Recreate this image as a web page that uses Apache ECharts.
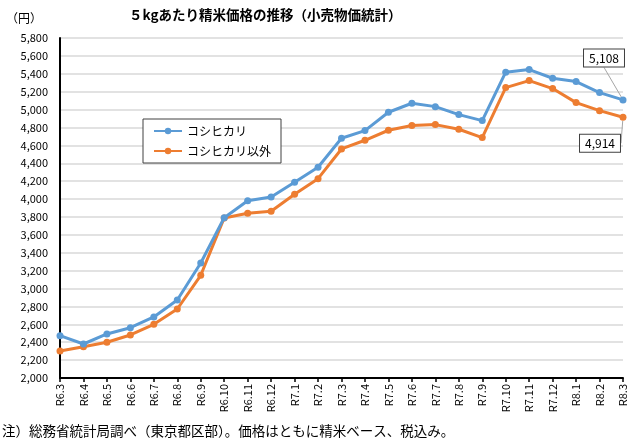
<!DOCTYPE html>
<html>
<head>
<meta charset="utf-8">
<script src="https://cdn.jsdelivr.net/npm/echarts@6/dist/echarts.min.js"></script>
<style>
html,body{margin:0;padding:0;background:#fff;}
#c{width:641px;height:443px;}
</style>
</head>
<body>
<div id="c"></div>
<script>
var categories = ['R6.3','R6.4','R6.5','R6.6','R6.7','R6.8','R6.9','R6.10','R6.11','R6.12','R7.1','R7.2','R7.3','R7.4','R7.5','R7.6','R7.7','R7.8','R7.9','R7.10','R7.11','R7.12','R8.1','R8.2','R8.3'];
var koshihikari = [2473,2380,2492,2562,2682,2872,3286,3792,3982,4024,4188,4355,4680,4765,4970,5071,5033,4944,4877,5418,5447,5350,5313,5190,5108];
var others = [2302,2350,2399,2481,2600,2771,3148,3789,3841,3863,4054,4228,4560,4657,4769,4821,4832,4780,4687,5246,5324,5235,5078,4988,4914];
var seriesNames = ['コシヒカリ','コシヒカリ以外'];
var titleText = '５kgあたり精米価格の推移（小売物価統計）';
var unitText = '（円）';
var noteText = '注）総務省統計局調べ（東京都区部）。価格はともに精米ベース、税込み。';

var FONT = '"Noto Sans CJK JP", "Noto Sans", sans-serif';
function fmt(v){ return Number(v).toLocaleString('en-US'); }

function lastLabelData(arr, labelCfg){
  return arr.map(function(v,i){
    if(i === arr.length-1){
      return {value: v, label: labelCfg};
    }
    return v;
  });
}

var chart = echarts.init(document.getElementById('c'), null, {renderer:'canvas'});
var option = {
  backgroundColor: '#fff',
  animation: false,
  textStyle: {fontFamily: FONT},
  title: [{
    text: titleText,
    left: 124, top: 3,
    textStyle: {fontFamily: FONT, fontSize: 13.5, fontWeight: 'bold', color: '#000'}
  }],
  graphic: [
    {type:'text', left: 6, top: 12, style:{text: unitText, font: '12px ' + FONT, fill:'#000'}},
    {type:'text', left: 2, top: 424, style:{text: noteText, font: '13.5px ' + FONT, fill:'#000'}}
  ],
  legend: {
    left: 143, top: 119, orient: 'vertical',
    padding: [6, 10, 6, 10],
    itemGap: 8,
    itemWidth: 28, itemHeight: 8,
    borderColor: '#404040', borderWidth: 1,
    backgroundColor: '#fff',
    textStyle: {fontFamily: FONT, fontSize: 12, color: '#000'},
    data: seriesNames
  },
  grid: {left: 60, right: 18, top: 38, bottom: 65, containLabel: false},
  xAxis: {
    type: 'category',
    data: categories,
    boundaryGap: false,
    axisLine: {lineStyle: {color: '#000', width: 2}},
    axisTick: {show: true, alignWithLabel: true, length: 4, lineStyle: {color: '#000', width: 1.5}},
    axisLabel: {rotate: 90, interval: 0, fontSize: 11, color: '#000', fontFamily: FONT, margin: 6},
    splitLine: {show: false}
  },
  yAxis: {
    type: 'value',
    min: 2000, max: 5800, interval: 200,
    axisLine: {show: true, lineStyle: {color: '#000', width: 2}},
    axisTick: {show: false},
    axisLabel: {fontSize: 11, color: '#000', fontFamily: FONT, margin: 12, formatter: fmt},
    splitLine: {lineStyle: {color: '#d9d9d9', width: 1.5}}
  },
  series: [
    {
      name: seriesNames[0], type: 'line',
      data: lastLabelData(koshihikari, {
        show: true, position: 'top', formatter: function(p){ return fmt(p.value); },
        color: '#000', fontSize: 12, fontFamily: FONT,
        backgroundColor: '#fff', borderColor: '#404040', borderWidth: 1, padding: [3, 5, 2, 5]
      }),
      labelLayout: function(params){
        if(params.dataIndex === koshihikari.length - 1) return {dx: -19, dy: -25};
        return {};
      },
      labelLine: {show: true, lineStyle: {color: '#a6a6a6', width: 1}},
      symbol: 'circle', symbolSize: 7,
      lineStyle: {color: '#5B9BD5', width: 3},
      itemStyle: {color: '#5B9BD5'},
      z: 3
    },
    {
      name: seriesNames[1], type: 'line',
      data: lastLabelData(others, {
        show: true, position: 'bottom', formatter: function(p){ return fmt(p.value); },
        color: '#000', fontSize: 12, fontFamily: FONT,
        backgroundColor: '#fff', borderColor: '#404040', borderWidth: 1, padding: [3, 5, 2, 5]
      }),
      labelLayout: function(params){
        if(params.dataIndex === others.length - 1) return {dx: -23, dy: 9};
        return {};
      },
      labelLine: {show: true, lineStyle: {color: '#a6a6a6', width: 1}},
      symbol: 'circle', symbolSize: 7,
      lineStyle: {color: '#ED7D31', width: 3},
      itemStyle: {color: '#ED7D31'},
      z: 2
    }
  ]
};
chart.setOption(option);
</script>
</body>
</html>
